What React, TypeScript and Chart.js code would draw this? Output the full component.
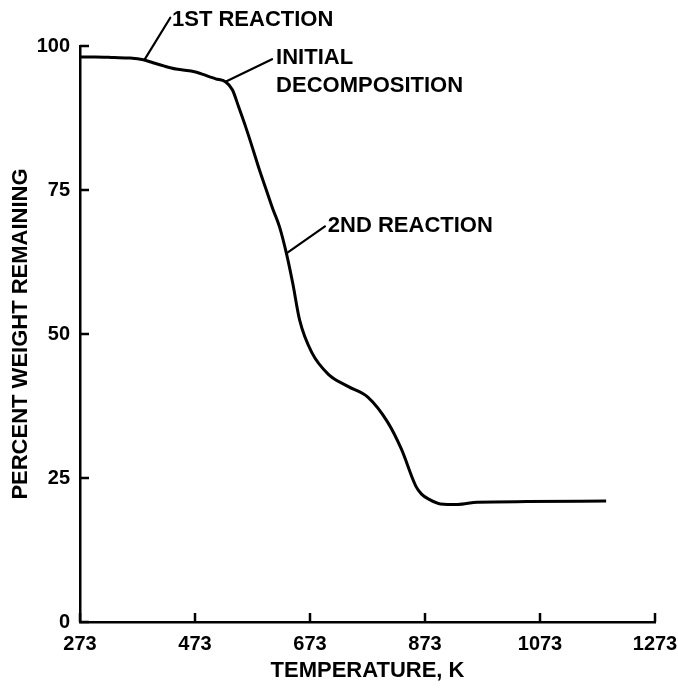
import React, { useEffect, useRef } from "react";
import { Chart, registerables } from "chart.js";

Chart.register(...registerables);

// ---- data ----
const tempK = [273, 300, 332, 360, 383, 400, 420, 440, 474, 500, 509, 526, 538, 549, 562, 574, 585, 597, 608, 620, 632, 643, 655, 676, 705, 739, 774, 808, 832, 857, 867, 880, 900, 930, 964, 1050, 1188];
const weightPct = [98.1, 98.1, 98.0, 97.9, 97.6, 97.1, 96.5, 96.0, 95.5, 94.6, 94.3, 93.8, 92.4, 89.4, 85.7, 82.0, 78.5, 75.0, 71.8, 68.6, 64.0, 58.8, 52.4, 46.8, 43.0, 40.9, 39.0, 34.7, 30.0, 23.6, 22.2, 21.3, 20.5, 20.4, 20.8, 20.9, 21.0];

const xTicks = [273, 473, 673, 873, 1073, 1273];
const yTicks = [0, 25, 50, 75, 100];

const xTitle = "TEMPERATURE, K";
const yTitle = "PERCENT WEIGHT REMAINING";

// annotations (data coordinates)
const annoText = ["1ST REACTION", "INITIAL\nDECOMPOSITION", "2ND REACTION"];
const annoCurveT = [385, 526, 632];
const annoCurveV = [97.6, 93.8, 64.0];
const annoEndT = [430, 607, 699];
const annoEndV = [104.9, 97.7, 68.7];
const annoTextT = [433, 614, 704];
const annoTextV = [103.5, 96.9, 67.7];

const FONT = '"Liberation Sans", Arial, Helvetica, sans-serif';

const decorPlugin = {
  id: "decor",
  afterDatasetsDraw(chart: any) {
    const { ctx, chartArea, scales } = chart;
    const x = scales.x;
    const y = scales.y;
    ctx.save();
    ctx.strokeStyle = "#000";
    ctx.fillStyle = "#000";
    ctx.lineWidth = 2.5;
    ctx.lineCap = "butt";
    // inward tick marks
    xTicks.forEach((v) => {
      const px = x.getPixelForValue(v);
      ctx.beginPath();
      ctx.moveTo(px, chartArea.bottom);
      ctx.lineTo(px, chartArea.bottom - 9);
      ctx.stroke();
    });
    yTicks.forEach((v) => {
      const py = y.getPixelForValue(v);
      ctx.beginPath();
      ctx.moveTo(chartArea.left, py);
      ctx.lineTo(chartArea.left + 9, py);
      ctx.stroke();
    });
    // leader lines
    ctx.lineWidth = 2.2;
    ctx.lineCap = "round";
    annoText.forEach((_, i) => {
      ctx.beginPath();
      ctx.moveTo(x.getPixelForValue(annoCurveT[i]), y.getPixelForValue(annoCurveV[i]));
      ctx.lineTo(x.getPixelForValue(annoEndT[i]), y.getPixelForValue(annoEndV[i]));
      ctx.stroke();
    });
    // labels
    ctx.font = "bold 22px " + FONT;
    ctx.textAlign = "left";
    ctx.textBaseline = "alphabetic";
    annoText.forEach((t, i) => {
      const tx = x.getPixelForValue(annoTextT[i]);
      const ty = y.getPixelForValue(annoTextV[i]);
      t.split("\n").forEach((line, j) => {
        ctx.fillText(line, tx, ty + j * 28);
      });
    });
    ctx.restore();
  },
};

export default function App() {
  const ref = useRef<HTMLCanvasElement | null>(null);

  useEffect(() => {
    if (!ref.current) return;
    const chart = new Chart(ref.current, {
      type: "line",
      data: {
        datasets: [
          {
            data: tempK.map((t, i) => ({ x: t, y: weightPct[i] })),
            borderColor: "#000",
            borderWidth: 3,
            pointRadius: 0,
            fill: false,
            cubicInterpolationMode: "monotone",
          },
        ],
      },
      options: {
        animation: false,
        responsive: false,
        devicePixelRatio: 1,
        layout: { padding: { left: 0, top: 46, right: 23, bottom: 0 } },
        plugins: { legend: { display: false }, tooltip: { enabled: false } },
        scales: {
          x: {
            type: "linear",
            min: 273,
            max: 1273,
            afterBuildTicks: (s: any) => {
              s.ticks = xTicks.map((v) => ({ value: v }));
            },
            afterFit: (s: any) => {
              s.height = 66;
              s.paddingLeft = 0;
              s.paddingRight = 0;
            },
            grid: { display: false, drawTicks: false },
            border: { display: true, color: "#000", width: 2.5 },
            ticks: {
              color: "#000",
              padding: 10,
              maxRotation: 0,
              autoSkip: false,
              font: { family: FONT, size: 20, weight: "bold" },
              callback: (v: any) => String(v),
            },
            title: {
              display: true,
              text: xTitle,
              color: "#000",
              font: { family: FONT, size: 22, weight: "bold" },
              padding: { top: 0, bottom: 4 },
            },
          },
          y: {
            type: "linear",
            min: 0,
            max: 100,
            afterBuildTicks: (s: any) => {
              s.ticks = yTicks.map((v) => ({ value: v }));
            },
            afterFit: (s: any) => {
              s.width = 80;
            },
            grid: { display: false, drawTicks: false },
            border: { display: true, color: "#000", width: 2.5 },
            ticks: {
              color: "#000",
              padding: 10,
              font: { family: FONT, size: 20, weight: "bold" },
              callback: (v: any) => String(v),
            },
            title: {
              display: true,
              text: yTitle,
              color: "#000",
              font: { family: FONT, size: 22, weight: "bold" },
              padding: { top: 8, bottom: 0 },
            },
          },
        },
      },
      plugins: [decorPlugin],
    } as any);
    return () => chart.destroy();
  }, []);

  return (
    <div style={{ position: "fixed", left: 0, top: 0, width: 678, height: 688, background: "#fff" }}>
      <canvas ref={ref} width={678} height={688} style={{ display: "block" }} />
    </div>
  );
}
